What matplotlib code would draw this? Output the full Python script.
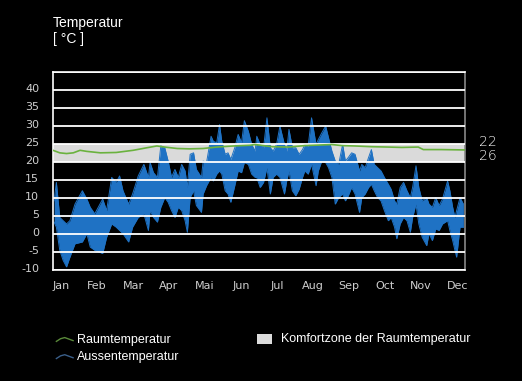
import numpy as np
import matplotlib.pyplot as plt
from matplotlib.lines import Line2D
from matplotlib.patches import Rectangle
from matplotlib.transforms import ScaledTranslation

# outdoor temperature, read as upper / lower envelope at sample days
days = [1, 3, 6, 9, 12, 15, 19.5, 26, 30, 33, 37, 44, 47.5, 52, 56, 59, 62, 67, 70.5, 75.5,
        80.5, 84.5, 86, 89, 92.5, 95.5, 99, 102, 105, 108, 111, 114, 117, 119, 121.5, 124.5,
        127, 131.5, 133, 136, 140, 142, 145, 147.5, 149.5, 152.5, 155, 157.5, 161, 164, 167,
        169.5, 173, 176, 179, 180.5, 183.5, 186.5, 189.5, 192.5, 195, 198, 201, 205, 207, 209,
        212, 215, 218, 221, 223, 226, 229, 233, 235, 238, 241.5, 244, 247, 250, 253, 256.5,
        259, 261.5, 264.5, 267.5, 271.5, 273.5, 276.5, 279.5, 282, 284.5, 287.5, 290.5, 293.5,
        297, 299.5, 302.5, 304.5, 307.5, 310.5, 313.5, 316.5, 318.5, 321.5, 324, 327, 331, 333,
        336, 339, 342, 345, 349.5, 351.5, 354, 356, 357.5, 360.5, 363.5]
t_high = [9.2, 14.3, 4.6, 3.7, 2.8, 3.7, 8.3, 12.0, 9.7, 7.4, 5.6, 9.7, 6.5, 15.7, 14.3, 16.1,
          12.0, 8.3, 11.1, 16.1, 19.3, 15.7, 19.8, 17.0, 15.7, 24.4, 23.9, 20.2, 15.7, 17.9,
          15.7, 19.3, 17.5, 12.9, 22.1, 22.5, 17.9, 15.7, 20.2, 19.8, 27.1, 25.7, 25.3, 30.3,
          25.7, 22.1, 22.5, 20.7, 23.9, 27.6, 25.3, 31.4, 28.5, 24.8, 23.0, 27.1, 24.8, 23.9,
          32.2, 23.9, 23.0, 24.8, 29.9, 24.8, 23.0, 29.0, 23.9, 23.9, 22.1, 23.4, 24.8, 24.4,
          32.2, 24.8, 26.2, 28.0, 29.9, 26.7, 23.0, 20.2, 19.3, 24.8, 20.2, 21.2, 22.5, 22.1,
          17.5, 19.3, 18.4, 21.2, 23.4, 19.3, 18.4, 17.5, 15.7, 13.8, 12.4, 9.2, 8.3, 12.9,
          14.3, 12.0, 10.1, 12.9, 18.9, 12.9, 9.2, 10.1, 8.3, 7.4, 10.1, 7.9, 9.7, 14.7, 12.0,
          7.4, 4.6, 6.5, 10.1, 8.3]
t_low = [3.3, 1.9, -4.5, -7.3, -9.1, -6.4, -2.7, -2.2, 0.1, -3.6, -4.5, -5.4, -0.9, 2.8, 1.9,
         1.0, 0.1, -2.2, 1.9, 4.6, 5.6, 1.0, 6.5, 4.6, 3.3, 7.4, 10.1, 8.8, 6.5, 4.6, 7.4, 6.5,
         3.7, 0.5, 10.1, 12.0, 7.9, 6.0, 11.1, 13.4, 15.7, 14.7, 16.6, 17.5, 16.6, 12.0, 11.1,
         8.8, 13.4, 17.5, 17.0, 19.8, 19.3, 16.6, 15.7, 15.7, 12.9, 14.3, 18.4, 11.1, 15.7,
         16.6, 15.7, 11.1, 14.7, 17.5, 12.0, 10.6, 12.4, 15.7, 17.5, 16.6, 19.3, 13.4, 17.5,
         20.2, 19.8, 18.4, 15.7, 8.3, 10.1, 11.1, 9.2, 10.6, 12.9, 11.1, 6.0, 10.1, 11.1, 12.9,
         13.8, 12.0, 10.1, 9.2, 6.5, 3.7, 4.6, 1.9, -1.3, 2.8, 4.6, 3.7, 0.5, 4.6, 8.3, 2.8,
         -0.9, -3.2, 0.1, -1.8, 1.4, 1.0, 2.8, 3.7, 1.0, -1.8, -4.5, -6.4, 1.9, 1.9]

# room temperature
room_days = [0, 6, 12, 18, 24, 30, 42, 56, 71, 83, 92, 99, 110, 121, 133, 145, 160, 174.5,
             179, 194, 208.5, 223, 247, 256, 267.5, 282, 297, 309, 323.5, 328, 344, 365]
room_temp = [23.2, 22.5, 22.3, 22.5, 23.2, 22.9, 22.5, 22.6, 23.2, 23.9, 24.4, 24.1, 23.7,
             23.6, 23.7, 24.1, 24.4, 24.6, 24.8, 24.2, 24.1, 24.5, 24.8, 24.5, 24.4, 24.2,
             24.1, 24.0, 24.1, 23.4, 23.4, 23.3]

comfort_low, comfort_high = 20, 25
months = ['Jan', 'Feb', 'Mar', 'Apr', 'Mai', 'Jun', 'Jul', 'Aug', 'Sep', 'Oct', 'Nov', 'Dec']
yticks = list(range(-10, 45, 5))

blue = '#1f72c4'
green = '#6ab23e'
txt = '#cfcfcf'

fig = plt.figure(figsize=(5.22, 3.81), dpi=100, facecolor='black')
ax = fig.add_axes([0.1015, 0.291, 0.7895, 0.521])
ax.set_facecolor('black')

ax.axhspan(comfort_low, comfort_high, color='#dadada', lw=0, zorder=1)

ax.fill_between(days, t_low, t_high, color=blue, lw=0, zorder=2)
ax.plot(days, t_high, color=blue, lw=0.7, zorder=2)
ax.plot(days, t_low, color=blue, lw=0.7, zorder=2)

for y in range(-10, 50, 5):
    ax.axhline(y, color='white', lw=1.3, zorder=3)

ax.plot(room_days, room_temp, color=green, lw=1.2, zorder=4)

ax.set_xlim(0, 365)
ax.set_ylim(-10, 45)
ax.set_yticks(yticks)
ax.set_yticklabels([str(v) for v in yticks])
ax.set_xticks(np.linspace(7, 358, 12))
ax.set_xticklabels(months)
ax.tick_params(length=0, colors=txt, labelsize=8)
ax.tick_params(axis='y', pad=10)
ax.tick_params(axis='x', pad=8)
up = ScaledTranslation(0, 2 / 100, fig.dpi_scale_trans)
for lab in ax.get_yticklabels():
    lab.set_transform(lab.get_transform() + up)
for s in ax.spines.values():
    s.set_color('white')
    s.set_linewidth(1.2)
ax.spines['right'].set_color('#888888')

fig.text(0.1015, 0.94, 'Temperatur', color='white', fontsize=10,
         family='Liberation Sans', va='center', ha='left')
fig.text(0.1015, 0.898, '[ °C ]', color='white', fontsize=10,
         family='Liberation Sans', va='center', ha='left')

# logo at right
fig.text(0.935, 0.61, '22\n26', color='white', fontsize=10, family='DejaVu Sans',
         fontweight='light', va='center', ha='center', linespacing=1.0)

# legend
def wave(x0, y0, color):
    xs = x0 + np.array([0, 0.008, 0.016, 0.024, 0.032])
    ys = y0 + np.array([-0.004, 0.003, 0.006, 0.002, -0.002])
    fig.add_artist(Line2D(xs, ys, transform=fig.transFigure, color=color, lw=1))

wave(0.108, 0.108, '#5a8a3a')
wave(0.108, 0.063, '#3a5f8a')
fig.text(0.148, 0.108, 'Raumtemperatur', color='white', fontsize=9,
         family='Liberation Sans', va='center')
fig.text(0.148, 0.063, 'Aussentemperatur', color='white', fontsize=9,
         family='Liberation Sans', va='center')
fig.add_artist(Rectangle((0.492, 0.097), 0.029, 0.026, transform=fig.transFigure,
                         color='#dcdcdc', lw=0))
fig.text(0.538, 0.111, 'Komfortzone der Raumtemperatur', color='white', fontsize=9,
         family='Liberation Sans', va='center')

fig.savefig('out.png', dpi=100, facecolor='black')
